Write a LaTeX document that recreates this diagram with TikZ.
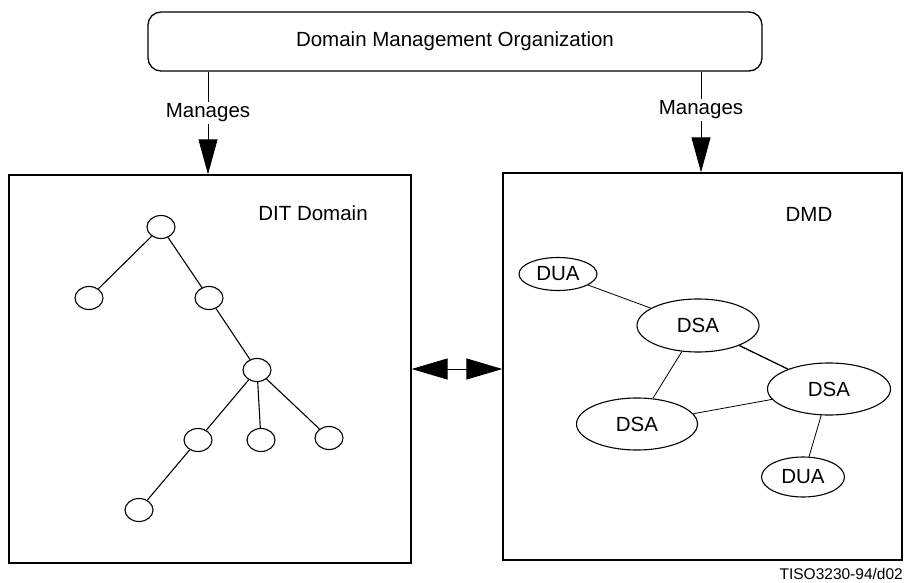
\documentclass[tikz,border=0pt]{standalone}
\usepackage{fontspec}
\setmainfont{Liberation Sans}
\usetikzlibrary{shapes.geometric,arrows.meta}
\begin{document}
\begin{tikzpicture}[x=1pt,y=-1pt,
  every node/.style={font=\fontsize{20.5}{24}\selectfont, inner sep=0pt},
  frame/.style={draw, line width=1.3pt, rectangle},
  tn/.style={draw, ellipse, line width=1.1pt, minimum width=28pt, minimum height=23pt},
  agent/.style={draw, ellipse, line width=1.1pt},
  edge/.style={line width=1.1pt},
  link/.style={line width=0.8pt},
  arr/.style={line width=1pt, -{Triangle[length=35pt,width=19pt]}},
  dbl/.style={line width=1pt, {Triangle[length=36pt,width=21pt]}-{Triangle[length=36pt,width=21pt]}},
  lbl/.style={fill=white, inner sep=2pt}
]
\useasboundingbox (0,0) rectangle (905,583);
% top box
\node[frame, rounded corners=13pt, minimum width=614pt, minimum height=59pt] (org) at (455,41.5) {Domain Management Organization};
% domain boxes
\node[frame, minimum width=402pt, minimum height=388pt] (dit) at (210,369) {};
\node[frame, minimum width=399pt, minimum height=387pt] (dmd) at (702.5,366.5) {};
\node (ditl) at (313,213) {DIT Domain};
\node (dmdl) at (809,214) {DMD};
% manages arrows
\coordinate (m1) at (208,0);
\coordinate (m2) at (701,0);
\draw[arr] (org.south -| m1) -- node[lbl, pos=0.4] (lab1) {Manages} (dit.north -| m1);
\draw[arr] (org.south -| m2) -- node[lbl, pos=0.38] (lab2) {Manages} (dmd.north -| m2);
% double arrow
\draw[dbl] (dit.east) -- (dit.east -| dmd.west);
% tree
\node[tn] (t0) at (161,227) {};
\node[tn] (t1) at (89,298) {};
\node[tn] (t2) at (209,298) {};
\node[tn] (t3) at (257,370) {};
\node[tn] (t4) at (198,440) {};
\node[tn] (t5) at (261,440) {};
\node[tn] (t6) at (329,438) {};
\node[tn] (t7) at (139,510) {};
\draw[edge] (t0) -- (t1);
\draw[edge] (t0) -- (t2);
\draw[edge] (t2) -- (t3);
\draw[edge] (t3) -- (t4);
\draw[edge] (t3) -- (t5);
\draw[edge] (t3) -- (t6);
\draw[edge] (t4) -- (t7);
% DMD
\node[agent, minimum width=78pt, minimum height=33pt] (dua1) at (558,274) {DUA};
\node[agent, minimum width=122pt, minimum height=53pt] (dsa1) at (698,325.5) {DSA};
\node[agent, minimum width=123pt, minimum height=52pt] (dsa2) at (829,389) {DSA};
\node[agent, minimum width=121pt, minimum height=52pt] (dsa3) at (637,424) {DSA};
\node[agent, minimum width=83pt, minimum height=40pt] (dua2) at (803,477) {DUA};
\draw[link] (dua1) -- (dsa1);
\draw[line width=1.3pt] (dsa1) -- (dsa2);
\draw[link] (dsa1) -- (dsa3);
\draw[link] (dsa3) -- (dsa2);
\draw[link] (dsa2) -- (dua2);
% figure code
\node[anchor=east, font=\fontsize{15.5}{18}\selectfont] (code) at (903,574) {TISO3230-94/d02};
\end{tikzpicture}
\end{document}
